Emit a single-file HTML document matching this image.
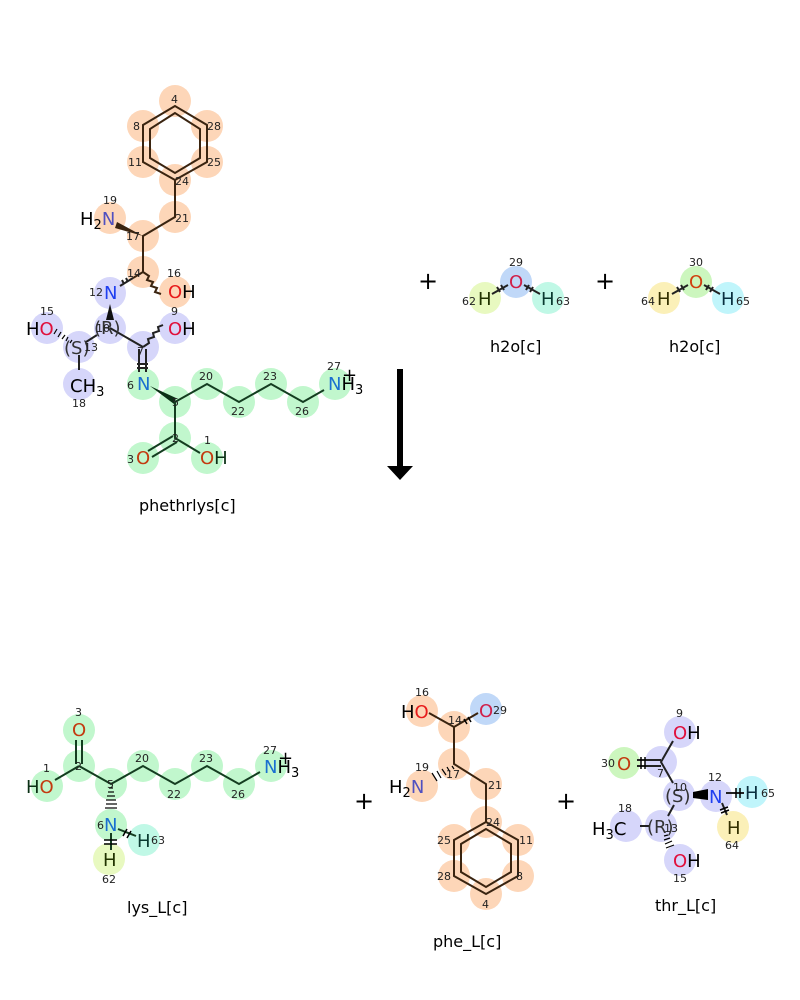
<!DOCTYPE html>
<html><head><meta charset="utf-8"><style>
html,body{margin:0;padding:0;background:#fff;}
svg{display:block;font-family:"DejaVu Sans","Liberation Sans",sans-serif;}
svg circle{r:16px;}
.n{font-size:11px;fill:#222;}
.a{font-size:18px;}
.t{font-size:16px;fill:#000;}
.b{stroke:#222;stroke-width:2;fill:none;}
.bp{stroke:#3a2410;stroke-width:2;fill:none;}
.bg{stroke:#143d20;stroke-width:2;fill:none;}
</style></head><body>
<svg width="800" height="1000" viewBox="0 0 800 1000" xmlns="http://www.w3.org/2000/svg">
<g fill="#fdd6b8">
<circle cx="175" cy="101" r="15"/><circle cx="143" cy="126" r="15"/><circle cx="207" cy="126" r="15"/>
<circle cx="143" cy="162" r="15"/><circle cx="207" cy="162" r="15"/><circle cx="175" cy="180" r="15"/>
<circle cx="175" cy="217" r="15"/><circle cx="143" cy="236" r="15"/><circle cx="110" cy="218" r="15"/>
<circle cx="143" cy="272" r="15"/><circle cx="175" cy="292" r="15"/>
</g>
<g fill="#d6d6fa">
<circle cx="110" cy="293" r="15"/><circle cx="110" cy="328" r="15"/><circle cx="175" cy="328" r="15"/>
<circle cx="143" cy="347" r="15"/><circle cx="79" cy="347" r="15"/><circle cx="47" cy="328" r="15"/>
<circle cx="79" cy="384" r="15"/>
</g>
<g fill="#c1f7cd">
<circle cx="143" cy="384" r="15"/><circle cx="175" cy="402" r="15"/><circle cx="207" cy="384" r="15"/>
<circle cx="239" cy="402" r="15"/><circle cx="271" cy="384" r="15"/><circle cx="303" cy="402" r="15"/>
<circle cx="335" cy="384" r="15"/><circle cx="175" cy="438" r="15"/><circle cx="143" cy="458" r="15"/>
<circle cx="207" cy="458" r="15"/>
</g>
<polygon class="bp" points="175,106 143,125 143,162 175,180 207,162 207,125"/>
<polygon class="bp" points="175,113 150,129 150,158 175,173 200,158 200,129"/>
<path class="bp" d="M175,180 L175,217 L143,236 L143,272 M143,272 L133,278 M143,272 l6,4 l-2,4 l6,2 l-2,4 l6,2 l-2,4 l6,2"/>
<polygon points="143,236 117,222 115,228" fill="#3a2410"/>
<path class="b" d="M120,286 L133,278 M124,284 l-2,-4 M128,282 l-2,-4"/>
<polygon points="110,304 106,320 114,320" fill="#111"/>
<path class="b" d="M110,328 L143,347 M143,347 l6,-4 l-1,-4 l6,-2 l-1,-4 l6,-2 l-1,-4 l5,-2 M139,349 L139,372 M146,349 L146,372 M137,364 h11 M137,368 h11 M97,335 L86,342 M79,355 L79,370"/>
<g stroke="#000" stroke-width="1.2"><line x1="70" y1="343" x2="72" y2="340"/><line x1="66" y1="341" x2="68" y2="337"/><line x1="62" y1="339" x2="65" y2="335"/><line x1="58" y1="337" x2="61" y2="332"/><line x1="54" y1="334" x2="57" y2="329"/></g>
<polygon points="150,386 174,404 176,398" fill="#0a3015"/>
<path class="bg" d="M175,402 L207,384 L239,402 L271,384 L303,402 L324,390 M175,402 L175,438 L200,453 M173,436 L148,451 M177,442 L152,457"/>
<text class="a" x="80" y="225" fill="#000">H<tspan font-size="13" dy="4">2</tspan><tspan fill="#5050c0" dy="-4">N</tspan></text>
<text class="a" x="168" y="298" fill="#e81c1c">O<tspan fill="#000">H</tspan></text>
<text class="a" x="104" y="299" fill="#1f3ff0">N</text>
<text class="a" x="26" y="335" fill="#000">H<tspan fill="#e0103c">O</tspan></text>
<text class="a" x="168" y="335" fill="#e0103c">O<tspan fill="#000">H</tspan></text>
<text class="a" x="94" y="334" fill="#333">(R)</text>
<text class="a" x="64" y="354" fill="#333">(S)</text>
<text class="a" x="70" y="392" fill="#000">CH<tspan font-size="13" dy="4">3</tspan></text>
<text class="a" x="137" y="390" fill="#1a6fd0">N</text>
<text class="a" x="328" y="390" fill="#1a6fd0">N<tspan fill="#000">H<tspan font-size="13" dy="4">3</tspan></tspan></text>
<text class="a" x="342" y="381" fill="#000">+</text>
<text class="a" x="136" y="464" fill="#c33a10">O</text>
<text class="a" x="200" y="464" fill="#c33a10">O<tspan fill="#0a3015">H</tspan></text>
<g class="n">
<text x="171" y="103">4</text><text x="133" y="130">8</text><text x="207" y="130">28</text>
<text x="128" y="166">11</text><text x="207" y="166">25</text><text x="175" y="185">24</text>
<text x="175" y="222">21</text><text x="126" y="240">17</text><text x="103" y="204">19</text>
<text x="127" y="277">14</text><text x="167" y="277">16</text><text x="89" y="296">12</text>
<text x="40" y="315">15</text><text x="171" y="315">9</text><text x="96" y="332">10</text>
<text x="84" y="351">13</text><text x="137" y="355">7</text><text x="72" y="407">18</text>
<text x="127" y="389">6</text><text x="172" y="406">5</text><text x="199" y="380">20</text>
<text x="231" y="415">22</text><text x="263" y="380">23</text><text x="295" y="415">26</text>
<text x="327" y="370">27</text><text x="172" y="442">2</text><text x="127" y="463">3</text>
<text x="204" y="444">1</text>
</g>
<text class="t" x="139" y="511">phethrlys[c]</text>
<circle cx="516" cy="282" r="14" fill="#c0d8f8"/><circle cx="485" cy="298" r="14" fill="#e8f9c0"/><circle cx="548" cy="298" r="14" fill="#c0f8e6"/>
<circle cx="696" cy="282" r="14" fill="#ccf6be"/><circle cx="664" cy="298" r="14" fill="#fbf0b8"/><circle cx="728" cy="298" r="14" fill="#c0f5fb"/>
<path class="b" d="M492,294 L508,285 M524,285 L540,294 M672,294 L688,285 M704,285 L720,294"/>
<path class="b" d="M497,287 l3,5 M501,285 l3,5 M529,285 l-3,5 M533,287 l-3,5 M677,287 l3,5 M681,285 l3,5 M709,285 l-3,5 M713,287 l-3,5" stroke-width="1.5"/>
<text class="a" x="509" y="288" fill="#d0204a">O</text>
<text class="a" x="478" y="305" fill="#223300">H</text>
<text class="a" x="541" y="305" fill="#0a3a30">H</text>
<text class="a" x="689" y="288" fill="#d04010">O</text>
<text class="a" x="657" y="305" fill="#333000">H</text>
<text class="a" x="721" y="305" fill="#0a3040">H</text>
<g class="n"><text x="509" y="266">29</text><text x="462" y="305">62</text><text x="556" y="305">63</text>
<text x="689" y="266">30</text><text x="641" y="305">64</text><text x="736" y="305">65</text></g>
<text class="t" x="490" y="352">h2o[c]</text>
<text class="t" x="669" y="352">h2o[c]</text>
<text x="418" y="289" font-size="24" fill="#000">+</text>
<text x="595" y="289" font-size="24" fill="#000">+</text>
<rect x="397" y="369" width="6" height="98" fill="#000"/>
<polygon points="387,466 413,466 400,480" fill="#000"/>
<g fill="#c1f7cd">
<circle cx="79" cy="730" r="15"/><circle cx="79" cy="766" r="15"/><circle cx="47" cy="786" r="15"/>
<circle cx="111" cy="784" r="15"/><circle cx="143" cy="766" r="15"/><circle cx="175" cy="784" r="15"/>
<circle cx="207" cy="766" r="15"/><circle cx="239" cy="784" r="15"/><circle cx="271" cy="766" r="15"/>
<circle cx="111" cy="825" r="15"/>
</g>
<circle cx="144" cy="840" r="15" fill="#c0f8e6"/><circle cx="109" cy="859" r="15" fill="#e8f9c0"/>
<path class="bg" d="M76,740 L76,764 M82,740 L82,764 M79,766 L55,780 M79,766 L111,784 L143,766 L175,784 L207,766 L239,784 L260,772 M118,829 L136,836 M111,833 L111,850"/>
<path d="M104,840 h13 M104,844 h13 M123,836 l4,-7 M127,838 l4,-7" stroke="#000" stroke-width="1.5"/>
<g stroke="#000" stroke-width="1.2"><line x1="109" y1="788" x2="113" y2="788"/><line x1="108" y1="792" x2="114" y2="792"/><line x1="107" y1="796" x2="115" y2="796"/><line x1="106" y1="800" x2="116" y2="800"/><line x1="106" y1="804" x2="117" y2="804"/><line x1="105" y1="808" x2="117" y2="808"/></g>
<text class="a" x="72" y="736" fill="#c33a10">O</text>
<text class="a" x="26" y="793" fill="#0a3015">H<tspan fill="#c33a10">O</tspan></text>
<text class="a" x="104" y="831" fill="#1a6fd0">N</text>
<text class="a" x="137" y="847" fill="#0a3a30">H</text>
<text class="a" x="103" y="866" fill="#223300">H</text>
<text class="a" x="264" y="773" fill="#1a6fd0">N<tspan fill="#000">H<tspan font-size="13" dy="4">3</tspan></tspan></text>
<text class="a" x="278" y="764" fill="#000">+</text>
<g class="n"><text x="75" y="716">3</text><text x="75" y="770">2</text><text x="43" y="772">1</text>
<text x="107" y="788">5</text><text x="135" y="762">20</text><text x="167" y="798">22</text>
<text x="199" y="762">23</text><text x="231" y="798">26</text><text x="263" y="754">27</text>
<text x="97" y="829">6</text><text x="151" y="844">63</text><text x="102" y="883">62</text></g>
<text class="t" x="127" y="913">lys_L[c]</text>
<text x="354" y="809" font-size="24" fill="#000">+</text>
<g fill="#fdd6b8">
<circle cx="422" cy="711" r="15"/><circle cx="454" cy="727" r="15"/><circle cx="454" cy="764" r="15"/>
<circle cx="422" cy="786" r="15"/><circle cx="486" cy="784" r="15"/><circle cx="486" cy="822" r="15"/>
<circle cx="518" cy="840" r="15"/><circle cx="454" cy="840" r="15"/><circle cx="518" cy="876" r="15"/>
<circle cx="454" cy="876" r="15"/><circle cx="486" cy="894" r="15"/>
</g>
<circle cx="486" cy="709" r="15" fill="#c0d8f8"/>
<path class="bp" d="M429,713 L454,727 L478,713 M454,727 L454,764 L486,784 L486,822"/>
<path d="M464,719 l3,5 M468,717 l3,5" stroke="#000" stroke-width="1.5"/>
<polygon class="bp" points="486,822 454,840 454,876 486,894 518,876 518,840"/>
<polygon class="bp" points="486,829 461,844 461,872 486,887 511,872 511,844"/>
<g stroke="#000" stroke-width="1.2"><line x1="452" y1="766" x2="454" y2="769"/><line x1="447" y1="767" x2="450" y2="772"/><line x1="442" y1="769" x2="446" y2="775"/><line x1="437" y1="771" x2="441" y2="778"/><line x1="432" y1="773" x2="437" y2="781"/></g>
<text class="a" x="401" y="718" fill="#000">H<tspan fill="#e81c1c">O</tspan></text>
<text class="a" x="479" y="717" fill="#d0204a">O</text>
<text class="a" x="389" y="793" fill="#000">H<tspan font-size="13" dy="4">2</tspan><tspan fill="#5050c0" dy="-4">N</tspan></text>
<g class="n"><text x="415" y="696">16</text><text x="448" y="724">14</text><text x="493" y="714">29</text>
<text x="415" y="771">19</text><text x="446" y="778">17</text><text x="488" y="789">21</text>
<text x="486" y="826">24</text><text x="519" y="844">11</text><text x="437" y="844">25</text>
<text x="516" y="880">8</text><text x="437" y="880">28</text><text x="482" y="908">4</text></g>
<text class="t" x="433" y="947">phe_L[c]</text>
<text x="556" y="809" font-size="24" fill="#000">+</text>
<g fill="#d6d6fa">
<circle cx="680" cy="732" r="14"/><circle cx="661" cy="762" r="14"/><circle cx="679" cy="795" r="14"/>
<circle cx="716" cy="796" r="14"/><circle cx="661" cy="826" r="14"/><circle cx="626" cy="826" r="14"/>
<circle cx="680" cy="860" r="14"/>
</g>
<circle cx="624" cy="763" r="14" fill="#ccf6be"/><circle cx="752" cy="792" r="14" fill="#c0f5fb"/><circle cx="733" cy="827" r="14" fill="#fbf0b8"/>
<path class="b" d="M673,741 L661,762 L673,783 M637,760 L661,760 M637,766 L661,766 M640,826 L650,826 M674,805 L668,816 M726,793 L744,793 M722,803 L727,815"/>
<path d="M641,757 v12 M645,757 v12 M736,788 v10 M740,788 v10 M720,810 l8,-3 M721,813 l8,-3" stroke="#000" stroke-width="1.5"/>
<polygon points="693,792 708,789 708,800 693,798" fill="#000"/>
<g stroke="#000" stroke-width="1.2"><line x1="664" y1="836" x2="668" y2="835"/><line x1="664" y1="840" x2="670" y2="838"/><line x1="665" y1="844" x2="672" y2="841"/><line x1="666" y1="848" x2="674" y2="845"/></g>
<text class="a" x="673" y="739" fill="#e0103c">O<tspan fill="#000">H</tspan></text>
<text class="a" x="617" y="770" fill="#c33a10">O</text>
<text class="a" x="665" y="802" fill="#333">(S)</text>
<text class="a" x="709" y="803" fill="#1f3ff0">N</text>
<text class="a" x="745" y="799" fill="#0a3040">H</text>
<text class="a" x="727" y="834" fill="#333000">H</text>
<text class="a" x="647" y="833" fill="#333">(R)</text>
<text class="a" x="592" y="835" fill="#000">H<tspan font-size="13" dy="4">3</tspan><tspan dy="-4">C</tspan></text>
<text class="a" x="673" y="867" fill="#e0103c">O<tspan fill="#000">H</tspan></text>
<g class="n"><text x="676" y="717">9</text><text x="657" y="777">7</text><text x="601" y="767">30</text>
<text x="673" y="791">10</text><text x="708" y="781">12</text><text x="761" y="797">65</text>
<text x="725" y="849">64</text><text x="664" y="832">13</text><text x="618" y="812">18</text>
<text x="673" y="882">15</text></g>
<text class="t" x="655" y="911">thr_L[c]</text>
</svg>
</body></html>
